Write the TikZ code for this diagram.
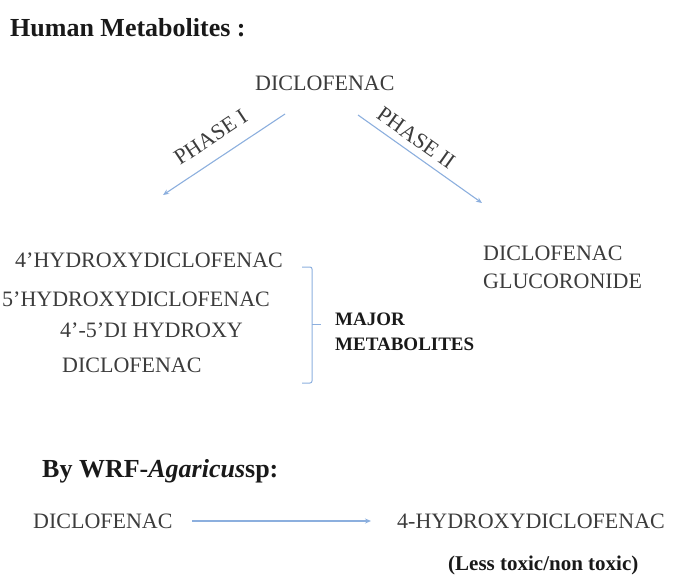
\documentclass[tikz,border=0pt]{standalone}
\usepackage{fontspec}
\setmainfont{Liberation Serif}
\usetikzlibrary{arrows.meta}
\definecolor{txtgray}{RGB}{60,60,60}
\definecolor{txtdark}{RGB}{25,25,25}
\definecolor{arrblue}{RGB}{140,175,222}
\tikzset{
  lbl/.style={inner sep=0pt, anchor=base west, text=txtgray, font=\fontsize{22}{26}\selectfont},
  hdr/.style={inner sep=0pt, anchor=base west, text=txtdark, font=\fontsize{26}{30}\selectfont\bfseries},
  boldlbl/.style={inner sep=0pt, anchor=base west, text=txtdark, font=\fontsize{19}{23}\selectfont\bfseries},
  arr/.style={draw=arrblue, line width=1.1pt, -{Stealth[length=6pt,width=5pt]}},
  phase/.style={inner sep=0pt, sloped, text=txtgray, font=\fontsize{22}{26}\selectfont},
  brace/.style={draw=arrblue, line width=1pt, rounded corners=2pt}
}
\begin{document}
\begin{tikzpicture}[x=1pt,y=-1pt]
\path[use as bounding box] (0,0) rectangle (675,579);
% titles
\node[hdr] (title) at (10,36) {Human Metabolites :};
\node[hdr] (wrf) at (42,477) {By WRF-\textit{Agaricus}sp:};
% top
\node[lbl] (dic) at (255,90) {DICLOFENAC};
\coordinate (s1) at (285,114);
\coordinate (e1) at (163,195);
\coordinate (s2) at (358,115);
\coordinate (e2) at (482,203);
\draw[arr] (s1) -- node[phase, pos=0.51, above=14pt] (p1) {PHASE I} (e1);
\draw[arr] (s2) -- node[phase, pos=0.40, above=7pt] (p2) {PHASE II} (e2);
% phase I products
\node[lbl] (h4) at (15,267) {4’HYDROXYDICLOFENAC};
\node[lbl] (h5) at (2,306) {5’HYDROXYDICLOFENAC};
\node[lbl] (h45) at (60,337) {4’-5’DI HYDROXY};
\node[lbl] (h45b) at (62,372) {DICLOFENAC};
% brace
\coordinate (bt) at (302,267);
\coordinate (bb) at (302,383);
\coordinate (bm) at (321,324);
\draw[brace] (bt) -- (312,267) -- (312,383) -- (bb);
\draw[brace] (312,324) -- (bm);
\node[boldlbl] (maj) at (335,325) {MAJOR};
\node[boldlbl] (met) at (335,350) {METABOLITES};
% phase II product
\node[lbl] (gl1) at (483,260) {DICLOFENAC};
\node[lbl] (gl2) at (483,288) {GLUCORONIDE};
% bottom
\node[lbl] (bd) at (33,528) {DICLOFENAC};
\node[lbl] (bh) at (397,528) {4-HYDROXYDICLOFENAC};
\node[inner sep=0pt, anchor=base west, text=txtdark, font=\fontsize{21}{25}\selectfont\bfseries] (less) at (448,570) {(Less toxic/non toxic)};
\coordinate (bs) at (192,521);
\coordinate (be) at (371,521);
\draw[arr] (bs) -- (be);
\end{tikzpicture}
\end{document}
